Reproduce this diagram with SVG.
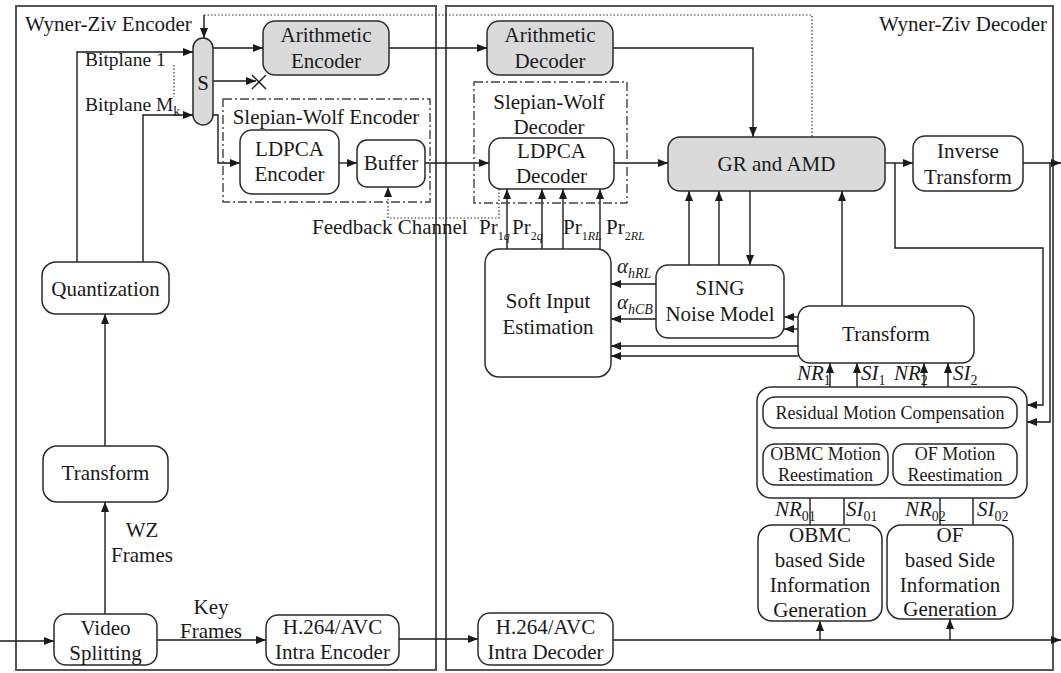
<svg xmlns="http://www.w3.org/2000/svg" width="1061" height="673" viewBox="0 0 1061 673">
<defs>
<marker id="ah" markerUnits="userSpaceOnUse" markerWidth="11" markerHeight="8" refX="10" refY="4" orient="auto">
<path d="M0,0 L10,4 L0,8 z" fill="#1a1a1a"/>
</marker>
<style>
text{font-family:"Liberation Serif","Times New Roman",serif;font-size:21px;fill:#1a1a1a}
.m{text-anchor:middle}
.s18{font-size:18px}
.lb{font-size:19.5px}
.it{font-style:italic}
.sub{font-size:14px}
.sb{font-size:12px}
.frame{fill:none;stroke:#555;stroke-width:2}
.box{fill:#fff;stroke:#2a2a2a;stroke-width:1.5}
.gray{fill:#dadada;stroke:#2a2a2a;stroke-width:1.5}
.dash{fill:none;stroke:#444;stroke-width:1.4;stroke-dasharray:9 3 2 3}
.ln{fill:none;stroke:#1a1a1a;stroke-width:1.4}
.ar{fill:none;stroke:#1a1a1a;stroke-width:1.4;marker-end:url(#ah)}
.dot{fill:none;stroke:#333;stroke-width:1.2;stroke-dasharray:1.5 2}
.dotar{fill:none;stroke:#333;stroke-width:1.2;stroke-dasharray:1.5 2;marker-end:url(#ah)}
</style>
</defs>
<rect width="1061" height="673" fill="#fff"/>

<g id="encoder-frame">
<rect class="frame" x="16" y="6" width="420" height="664"/>
<text x="25" y="31">Wyner-Ziv Encoder</text>
</g>
<g id="decoder-frame">
<rect class="frame" x="446" y="6" width="607" height="664"/>
<text x="1047" y="31" text-anchor="end">Wyner-Ziv Decoder</text>
</g>

<g id="connectors">
<path class="dot" d="M204 15 H812 V137"/>
<path class="ar" d="M204 15 V38"/>
<path class="ar" d="M213 48 H263"/>
<path class="ar" d="M213 81 H256"/>
<path class="ln" d="M252 75 L266 89 M252 89 L266 75"/>
<path class="ar" d="M77 262 V52 H193"/>
<path class="ar" d="M143 262 V115 H193"/>
<path class="dot" d="M174 65 V97"/>
<path class="ar" d="M213 115 H218 V163 H240"/>
<path class="ar" d="M339 163 H357"/>
<path class="ar" d="M425 163 H489"/>
<path class="dotar" d="M499 189 V218 H388 V187"/>
<path class="ar" d="M389 48 H487"/>
<path class="ar" d="M613 48 H753 V137"/>
<path class="ar" d="M614 163 H668"/>
<path class="ar" d="M885 163 H913"/>
<path class="ar" d="M1023 163 H1061"/>
<path class="ar" d="M895 163 V248 H1043 V405 H1027"/>
<path class="ar" d="M1050 163 V422 H1027"/>
<path class="ar" d="M507 249 V189"/>
<path class="ar" d="M542 249 V189"/>
<path class="ar" d="M563 249 V189"/>
<path class="ar" d="M600 249 V189"/>
<path class="ar" d="M689 265 V191"/>
<path class="ar" d="M719 265 V191"/>
<path class="ar" d="M750 191 V265"/>
<path class="ar" d="M842 306 V191"/>
<path class="ar" d="M656 284 H611"/>
<path class="ar" d="M656 319 H611"/>
<path class="ar" d="M798 317 H784"/>
<path class="ar" d="M798 329 H784"/>
<path class="ar" d="M798 346 H611"/>
<path class="ar" d="M798 356 H611"/>
<path class="ar" d="M830 387 V363"/>
<path class="ar" d="M857 387 V363"/>
<path class="ar" d="M924 387 V363"/>
<path class="ar" d="M948 387 V363"/>
<path class="ar" d="M827 444 V428"/>
<path class="ar" d="M957 444 V428"/>
<path class="ar" d="M810 525 V485"/>
<path class="ar" d="M844 525 V485"/>
<path class="ar" d="M940 525 V485"/>
<path class="ar" d="M973 525 V485"/>
<path class="ar" d="M820 640 V621"/>
<path class="ar" d="M950 640 V619"/>
<path class="ar" d="M105 446 V314"/>
<path class="ar" d="M105 614 V502"/>
<path class="ar" d="M0 641 H54"/>
<path class="ar" d="M157 640 H266"/>
<path class="ar" d="M399 639 H478"/>
<path class="ar" d="M613 640 H1061"/>
</g>

<g id="labels">
<text class="lb" x="85" y="66">Bitplane 1</text>
<text class="lb" x="85" y="111">Bitplane M<tspan class="sub" dy="5">k</tspan></text>
<text x="312" y="234">Feedback Channel</text>
<text x="479" y="234">Pr<tspan class="sb" dy="6">1</tspan><tspan class="sb it">q</tspan></text>
<text x="512" y="234">Pr<tspan class="sb" dy="6">2</tspan><tspan class="sb it">q</tspan></text>
<text x="563" y="234">Pr<tspan class="sb" dy="6">1</tspan><tspan class="sb it">RL</tspan></text>
<text x="606" y="234">Pr<tspan class="sb" dy="6">2</tspan><tspan class="sb it">RL</tspan></text>
<text class="it" x="617" y="273">α<tspan class="sub" dy="5">hRL</tspan></text>
<text class="it" x="617" y="309">α<tspan class="sub" dy="5">hCB</tspan></text>
<text class="it" x="797" y="380">NR<tspan class="sub" dy="5" font-style="normal">1</tspan></text>
<text class="it" x="861" y="380">SI<tspan class="sub" dy="5" font-style="normal">1</tspan></text>
<text class="it" x="894" y="380">NR<tspan class="sub" dy="5" font-style="normal">2</tspan></text>
<text class="it" x="953" y="380">SI<tspan class="sub" dy="5" font-style="normal">2</tspan></text>
<text class="it" x="775" y="516">NR<tspan class="sub" dy="5" font-style="normal">01</tspan></text>
<text class="it" x="846" y="516">SI<tspan class="sub" dy="5" font-style="normal">01</tspan></text>
<text class="it" x="905" y="516">NR<tspan class="sub" dy="5" font-style="normal">02</tspan></text>
<text class="it" x="977" y="516">SI<tspan class="sub" dy="5" font-style="normal">02</tspan></text>
<text class="m" x="142" y="537">WZ</text>
<text class="m" x="142" y="562">Frames</text>
<text class="m" x="211" y="614">Key</text>
<text class="m" x="211" y="638">Frames</text>
</g>

<g id="switch-s"><rect class="gray" x="193" y="38" width="20" height="87" rx="10"/><text class="m" x="203" y="90">S</text></g>
<g id="arith-encoder"><rect class="gray" x="263" y="21" width="126" height="54" rx="12"/><text class="m" x="326" y="42">Arithmetic</text><text class="m" x="326" y="68">Encoder</text></g>
<g id="sw-encoder"><rect class="dash" x="223" y="99" width="207" height="103"/><text class="m" x="326" y="124">Slepian-Wolf Encoder</text></g>
<g id="ldpca-encoder"><rect class="box" x="240" y="130" width="99" height="64" rx="12"/><text class="m" x="289.5" y="156">LDPCA</text><text class="m" x="289.5" y="181">Encoder</text></g>
<g id="buffer"><rect class="box" x="357" y="140" width="68" height="47" rx="10"/><text class="m" x="391" y="170">Buffer</text></g>
<g id="quantization"><rect class="box" x="42" y="262" width="127" height="52" rx="14"/><text class="m" x="105.5" y="296">Quantization</text></g>
<g id="transform-enc"><rect class="box" x="43" y="446" width="125" height="56" rx="14"/><text class="m" x="105.5" y="480">Transform</text></g>
<g id="video-splitting"><rect class="box" x="54" y="614" width="103" height="51" rx="12"/><text class="m" x="105.5" y="635">Video</text><text class="m" x="105.5" y="660">Splitting</text></g>
<g id="intra-encoder"><rect class="box" x="266" y="615" width="133" height="50" rx="12"/><text class="m" x="332.5" y="634">H.264/AVC</text><text class="m" x="332.5" y="659">Intra Encoder</text></g>

<g id="arith-decoder"><rect class="gray" x="487" y="21" width="126" height="54" rx="12"/><text class="m" x="550" y="42">Arithmetic</text><text class="m" x="550" y="68">Decoder</text></g>
<g id="sw-decoder"><rect class="dash" x="474" y="82" width="153" height="121"/><text class="m" x="549" y="109">Slepian-Wolf</text><text class="m" x="549" y="134">Decoder</text></g>
<g id="ldpca-decoder"><rect class="box" x="489" y="138" width="125" height="51" rx="12"/><text class="m" x="551.5" y="158">LDPCA</text><text class="m" x="551.5" y="183">Decoder</text></g>
<g id="gr-amd"><rect class="gray" x="668" y="137" width="217" height="54" rx="12"/><text class="m" x="776.5" y="171">GR and AMD</text></g>
<g id="inverse-transform"><rect class="box" x="913" y="136" width="110" height="55" rx="12"/><text class="m" x="968" y="158">Inverse</text><text class="m" x="968" y="184">Transform</text></g>
<g id="soft-input"><rect class="box" x="485" y="249" width="126" height="128" rx="14"/><text class="m" x="548" y="308">Soft Input</text><text class="m" x="548" y="334">Estimation</text></g>
<g id="sing"><rect class="box" x="656" y="265" width="128" height="73" rx="12"/><text class="m" x="720" y="295">SING</text><text class="m" x="720" y="321">Noise Model</text></g>
<g id="transform-dec"><rect class="box" x="798" y="306" width="176" height="57" rx="12"/><text class="m" x="886" y="341">Transform</text></g>
<g id="motion-group"><rect class="box" x="757" y="387" width="270" height="111" rx="14"/></g>
<g id="rmc"><rect class="box" x="763" y="397" width="254" height="31" rx="12"/><text class="m s18" x="890" y="419">Residual Motion Compensation</text></g>
<g id="obmc-reest"><rect class="box" x="763" y="444" width="125" height="41" rx="12"/><text class="m s18" x="825.5" y="460">OBMC Motion</text><text class="m s18" x="825.5" y="481">Reestimation</text></g>
<g id="of-reest"><rect class="box" x="893" y="444" width="124" height="41" rx="12"/><text class="m s18" x="955" y="460">OF Motion</text><text class="m s18" x="955" y="481">Reestimation</text></g>
<g id="obmc-sig"><rect class="box" x="758" y="525" width="124" height="96" rx="14"/><text class="m" x="820" y="542">OBMC</text><text class="m" x="820" y="567">based Side</text><text class="m" x="820" y="592">Information</text><text class="m" x="820" y="617">Generation</text></g>
<g id="of-sig"><rect class="box" x="887" y="525" width="126" height="94" rx="14"/><text class="m" x="950" y="542">OF</text><text class="m" x="950" y="567">based Side</text><text class="m" x="950" y="592">Information</text><text class="m" x="950" y="616">Generation</text></g>
<g id="intra-decoder"><rect class="box" x="478" y="613" width="135" height="52" rx="12"/><text class="m" x="545.5" y="634">H.264/AVC</text><text class="m" x="545.5" y="659">Intra Decoder</text></g>
</svg>
